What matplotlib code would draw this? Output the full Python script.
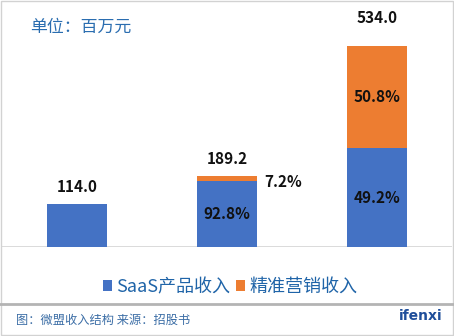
import matplotlib
matplotlib.use("Agg")
import matplotlib.pyplot as plt
from matplotlib.patches import Patch, Rectangle
from matplotlib.lines import Line2D

plt.rcParams['font.family'] = ['Noto Sans CJK SC', 'DejaVu Sans']

# Revenue data (million yuan)
years = ["A", "B", "C"]
totals = [114.0, 189.2, 534.0]
saas_share = [100.0, 92.8, 49.2]
marketing_share = [0.0, 7.2, 50.8]
saas_values = [t * s / 100 for t, s in zip(totals, saas_share)]
marketing_values = [t * s / 100 for t, s in zip(totals, marketing_share)]
total_labels = ["114.0", "189.2", "534.0"]
saas_labels = ["", "92.8%", "49.2%"]
marketing_labels = ["", "7.2%", "50.8%"]
series_names = ["SaaS产品收入", "精准营销收入"]

BLUE = "#4472C4"
ORANGE = "#ED7D31"
TEXT_BLUE = "#1F64A8"

W, H = 454, 336
fig = plt.figure(figsize=(W / 100, H / 100), dpi=100)
fig.patch.set_facecolor("white")

def fx(px):
    return px / W

def fy(py):
    return 1 - py / H

ax = fig.add_axes([fx(2), fy(247), fx(450), (247 - 21) / H])
x = list(range(len(years)))
ax.bar(x, saas_values, width=0.4, color=BLUE, zorder=2)
ax.bar(x, marketing_values, width=0.4, bottom=saas_values, color=ORANGE, zorder=2)
ax.set_xlim(-0.5, 2.5)
ax.set_ylim(0, 600)
ax.axis("off")
ax.axhline(0, color="#D4D4D4", lw=1.2, zorder=1)

label_font = dict(fontsize=11, fontweight="bold", color="#111111")
# Totals above each bar
total_offsets = [12, 12, 20]
for xi, t, lab, off in zip(x, totals, total_labels, total_offsets):
    ax.annotate(lab, (xi, t), xytext=(0, off), textcoords="offset points",
                ha="center", va="center", **label_font)
# Shares inside the segments
for xi, s, lab in zip(x, saas_values, saas_labels):
    if lab:
        ax.text(xi, s / 2, lab, ha="center", va="center", **label_font)
for xi, s, m, lab in zip(x, saas_values, marketing_values, marketing_labels):
    if not lab:
        continue
    if m < 40:
        ax.annotate(lab, (xi + 0.2, s + m / 2), xytext=(5, -3),
                    textcoords="offset points", ha="left", va="center", **label_font)
    else:
        ax.text(xi, s + m / 2, lab, ha="center", va="center", **label_font)

# Title
fig.text(fx(30), fy(27), "单位：百万元", fontsize=12.2, color="#2A6DB0",
         ha="left", va="center")

# Legend
handles = [Patch(facecolor=BLUE), Patch(facecolor=ORANGE)]
fig.legend(handles, series_names, loc="center", bbox_to_anchor=(fx(230), fy(287)),
           ncol=2, frameon=False, fontsize=13, handlelength=0.5, handleheight=0.5,
           handletextpad=0.25, columnspacing=0.3, labelcolor=TEXT_BLUE,
           borderpad=0)

# Separator and footer
fig.add_artist(Line2D([0, 1], [fy(304), fy(304)], transform=fig.transFigure,
                      color="#B4B4B4", lw=2))
fig.text(fx(16), fy(320), "图：微盟收入结构 来源：招股书", fontsize=8.8,
         color="#3C6EA6", ha="left", va="center")
fig.text(fx(443), fy(316), "ifenxi", fontsize=10, fontweight="bold",
         color="#1F4E9A", ha="right", va="center", family=["DejaVu Sans"])

# Outer frame
fig.add_artist(Rectangle((fx(1), fy(335)), fx(452), (334) / H, transform=fig.transFigure,
                         fill=False, edgecolor="#D2D2D2", lw=1))

fig.savefig("out.png", dpi=100, facecolor="white")
